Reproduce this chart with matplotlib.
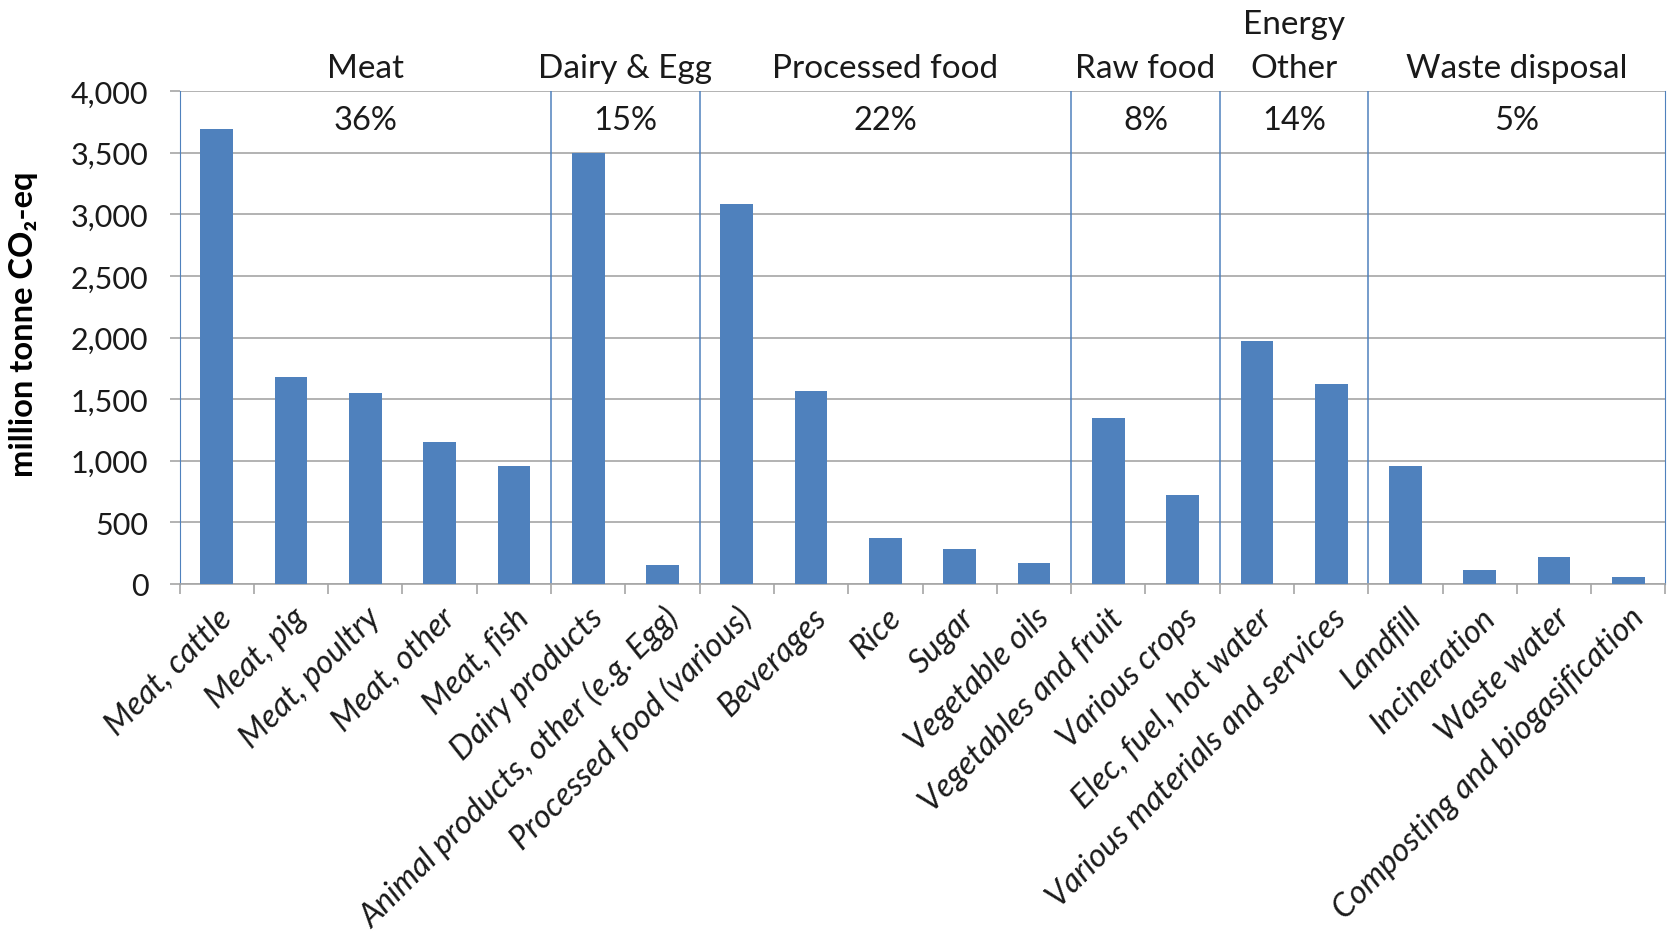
import matplotlib.pyplot as plt
import numpy as np

plt.rcParams['font.family'] = ['Lato', 'DejaVu Sans']

categories = ['Meat, cattle', 'Meat, pig', 'Meat, poultry', 'Meat, other', 'Meat, fish',
              'Dairy products', 'Animal products, other (e.g. Egg)',
              'Processed food (various)', 'Beverages', 'Rice', 'Sugar', 'Vegetable oils',
              'Vegetables and fruit', 'Various crops',
              'Elec, fuel, hot water', 'Various materials and services',
              'Landfill', 'Incineration', 'Waste water', 'Composting and biogasification']
values = [3690, 1680, 1550, 1150, 960,
          3500, 155,
          3080, 1565, 375, 280, 168,
          1345, 720,
          1970, 1620,
          957, 112, 221, 59]

groups = ['Meat', 'Dairy & Egg', 'Processed food', 'Raw food', 'Other', 'Waste disposal']
group_sizes = [5, 2, 5, 2, 2, 4]
group_shares = ['36%', '15%', '22%', '8%', '14%', '5%']

bar_color = '#4F81BD'
grid_color = '#A6A6A6'
text_color = '#1a1a1a'

fig = plt.figure(figsize=(16.67, 9.45), dpi=100)
ax = fig.add_axes([0.1077, 0.381, 0.8914, 0.5215])

x = np.arange(len(categories))
ax.bar(x, values, width=0.44, color=bar_color, zorder=3)

ax.set_xlim(-0.5, len(categories) - 0.5)
ax.set_ylim(0, 4000)
ax.set_yticks(np.arange(0, 4001, 500))
ax.set_yticklabels([f'{v:,}' for v in range(0, 4001, 500)], fontsize=22, color=text_color)
ax.yaxis.grid(True, color=grid_color, linewidth=1.2, zorder=0)
ax.tick_params(axis='y', length=7.5, width=1.2, color=grid_color, pad=15)

ax.set_xticks(x)
ax.set_xticklabels(categories, rotation=45, ha='right', va='top', rotation_mode='anchor',
                   fontsize=23.5, style='italic', color=text_color)
ax.tick_params(axis='x', which='major', length=0, pad=13)
ax.set_xticks(np.arange(-0.5, len(categories), 1), minor=True)
ax.tick_params(axis='x', which='minor', length=7.5, width=1.2, color=grid_color)

ax.spines['top'].set_visible(False)
ax.spines['bottom'].set_color(grid_color)
ax.spines['bottom'].set_linewidth(1.2)
ax.spines['left'].set_color(bar_color)
ax.spines['right'].set_color(bar_color)

# group separators, group names and shares
edges = np.cumsum([0] + group_sizes) - 0.5
for e in edges[1:-1]:
    ax.axvline(e, color=bar_color, linewidth=1.1, zorder=2)
for i, g in enumerate(groups):
    c = (edges[i] + edges[i + 1]) / 2
    ax.text(c, 1.047, g, transform=ax.get_xaxis_transform(), ha='center', va='center',
            fontsize=24, color=text_color)
    ax.text(c, 0.9415, group_shares[i], transform=ax.get_xaxis_transform(), ha='center',
            va='center', fontsize=23.5, color=text_color)
ax.text((edges[4] + edges[5]) / 2, 1.137, 'Energy', transform=ax.get_xaxis_transform(),
        ha='center', va='center', fontsize=24, color=text_color)

fig.text(0.014, 0.657, 'million tonne CO\u2082-eq', rotation=90, ha='center', va='center',
         fontsize=23.5, fontweight='bold', color='black')

fig.savefig('out.png', dpi=100)
